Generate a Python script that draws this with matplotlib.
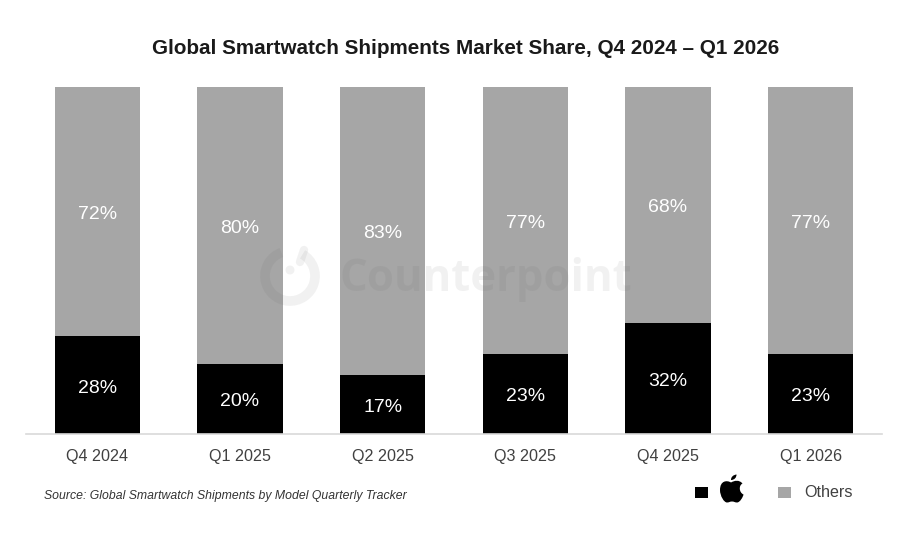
#!/usr/bin/env python3

""" Stacked bars of global smartwatch shipment share per quarter."""

import numpy as np
from matplotlib import pyplot as plt
from matplotlib.patches import Arc, Circle, PathPatch, Rectangle
from matplotlib.path import Path

quarters = ["Q4 2024", "Q1 2025", "Q2 2025", "Q3 2025", "Q4 2025", "Q1 2026"]
apple = [28, 20, 17, 23, 32, 23]
others = [72, 80, 83, 77, 68, 77]

GREY = "#a6a6a6"
W, H = 903, 534

plt.rcParams["font.family"] = ["Liberation Sans", "DejaVu Sans"]

fig = plt.figure(figsize=(W / 100, H / 100), dpi=100)
ax = fig.add_axes([26 / W, 1 - 433.5 / H, 856 / W, 346.5 / H])

x = np.arange(len(quarters))
bars_apple = ax.bar(x, apple, width=0.596, color="black")
bars_others = ax.bar(x, others, width=0.596, bottom=apple, color=GREY)
labels = ax.bar_label(bars_apple, labels=[f"{v}%" for v in apple], label_type="center",
                      color="white", fontsize=14)
labels += ax.bar_label(bars_others, labels=[f"{v}%" for v in others], label_type="center",
                       color="white", fontsize=14)
# nudge the percentages down a little from the exact segment centre
for label in labels:
    label.xyann = (0, -2.2)

ax.set_xlim(-0.5, 5.5)
ax.set_ylim(0, 100)
ax.set_yticks([])
ax.set_xticks(x, quarters)
ax.tick_params(axis="x", length=0, pad=11, labelsize=11.6, labelcolor="#404040")
for side in ["top", "left", "right"]:
    ax.spines[side].set_visible(False)
ax.spines["bottom"].set_color("#d9d9d9")
ax.spines["bottom"].set_linewidth(1.2)

# overlay in pixel coordinates for the title, watermark, source and legend
ov = fig.add_axes([0, 0, 1, 1])
ov.set_xlim(0, W)
ov.set_ylim(H, 0)
ov.axis("off")
ov.patch.set_alpha(0)

ov.text(465.5, 49, "Global Smartwatch Shipments Market Share, Q4 2024 \u2013 Q1 2026",
        ha="center", va="center", fontsize=14.9, fontweight="bold", color="#1a1a1a")
ov.text(44, 495.5, "Source: Global Smartwatch Shipments by Model Quarterly Tracker",
        ha="left", va="center", fontsize=8.87, style="italic", color="#333333")

# watermark
wm = (0.35, 0.35, 0.35, 0.08)
ov.add_patch(Arc((290, 276), 50, 50, theta1=-60, theta2=250, lw=7, color=wm))
ov.add_patch(Circle((290, 270), 4.5, color=wm, lw=0))
ov.plot([300, 304], [262, 250], color=wm, lw=6, solid_capstyle="round")
ov.text(340, 280, "Counterpoint", ha="left", va="center", fontsize=31.5,
        fontweight="bold", family=["Open Sans", "DejaVu Sans"], color=wm)

# legend
ov.add_patch(Rectangle((695, 486.5), 13, 11.5, color="black", lw=0))
ov.add_patch(Rectangle((778, 486.5), 13, 11.5, color=GREY, lw=0))
ov.text(804, 492.5, "Others", ha="left", va="center", fontsize=11.6, color="#404040")

# apple logo body and leaf
body = [
    (731, 482.5),
    (727, 480), (720, 480.5), (720, 490),
    (720, 496), (724, 502.5), (727, 502.5),
    (729, 502.5), (730, 501.5), (732, 501.5),
    (734, 501.5), (735, 502.5), (737, 502.5),
    (740, 502.5), (743, 497), (743.5, 494.5),
    (739, 492.5), (738.5, 485.5), (742.5, 483.5),
    (739, 479.5), (734.5, 480.5), (731, 482.5),
]
codes = [Path.MOVETO] + [Path.CURVE4] * (len(body) - 1)
ov.add_patch(PathPatch(Path(body, codes), color="black", lw=0))
leaf = [(731, 480), (731, 477), (733, 475), (736.5, 474.5),
        (736.5, 477.5), (734.5, 480), (731, 480)]
codes = [Path.MOVETO] + [Path.CURVE4] * (len(leaf) - 1)
ov.add_patch(PathPatch(Path(leaf, codes), color="black", lw=0))

ov.set_xlim(0, W)
ov.set_ylim(H, 0)

plt.savefig("out.png", dpi=100)
